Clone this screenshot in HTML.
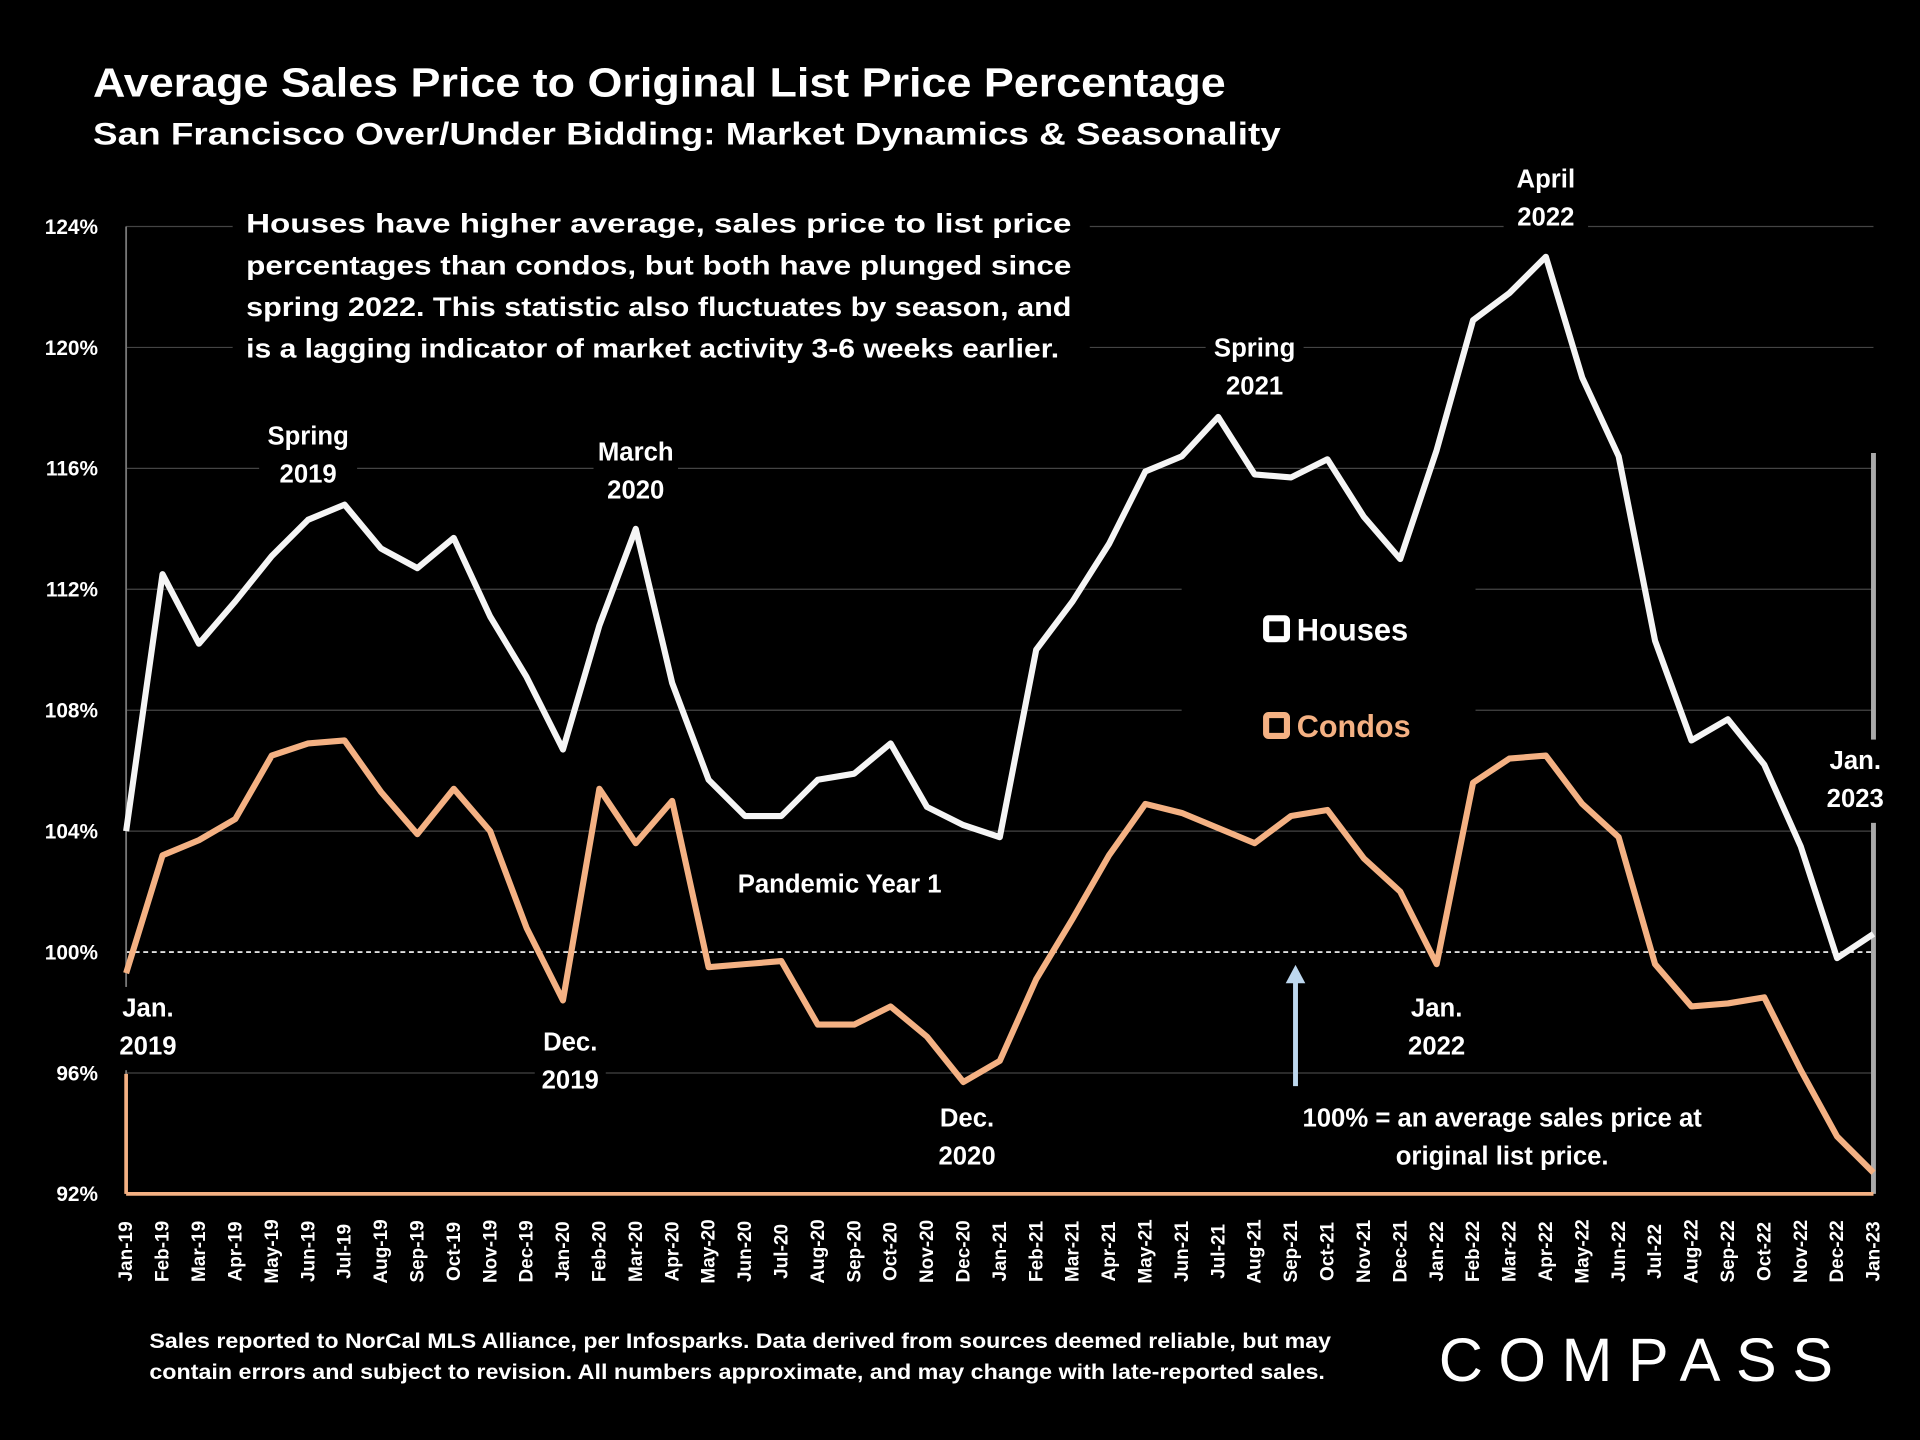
<!DOCTYPE html>
<html><head><meta charset="utf-8"><style>
html,body{margin:0;padding:0;background:#000;width:1920px;height:1440px;overflow:hidden}
svg{display:block}
text{font-family:"Liberation Sans",Carlito,sans-serif;font-weight:bold;fill:#fff}
</style></head><body>
<svg id="chart" width="1920" height="1440" viewBox="0 0 1568 1176" xmlns="http://www.w3.org/2000/svg">
<rect width="1568" height="1176" fill="#000"/>
<text x="76" y="79" font-size="33" textLength="925" lengthAdjust="spacingAndGlyphs">Average Sales Price to Original List Price Percentage</text>
<text x="76" y="118" font-size="26" textLength="970" lengthAdjust="spacingAndGlyphs">San Francisco Over/Under Bidding: Market Dynamics &amp; Seasonality</text>
<g id="grid"></g>
<g id="axes"></g>
<g id="series"></g>
<g id="notes">
<rect x="190" y="162" width="700" height="140" fill="#000"/>
<text font-size="22">
<tspan x="201" y="190" textLength="674" lengthAdjust="spacingAndGlyphs">Houses have higher average, sales price to list price</tspan>
<tspan x="201" y="224" textLength="674" lengthAdjust="spacingAndGlyphs">percentages than condos, but both have plunged since</tspan>
<tspan x="201" y="258" textLength="674" lengthAdjust="spacingAndGlyphs">spring 2022. This statistic also fluctuates by season, and</tspan>
<tspan x="201" y="292" textLength="664" lengthAdjust="spacingAndGlyphs">is a lagging indicator of market activity 3-6 weeks earlier.</tspan></text>
</g>
<g id="labels" font-size="21" text-anchor="middle"></g>
<g>
<rect x="965" y="470" width="240" height="160" fill="#000"/>
<rect x="1034" y="505" width="17" height="17" fill="none" stroke="#fff" stroke-width="5" rx="2"/>
<text x="1059" y="523" font-size="26" textLength="91" lengthAdjust="spacingAndGlyphs">Houses</text>
<rect x="1034" y="584" width="17" height="17" fill="none" stroke="#f4b183" stroke-width="5" rx="2"/>
<text x="1059" y="602" font-size="26" style="fill:#f4b183" textLength="93" lengthAdjust="spacingAndGlyphs">Condos</text>
</g>
<text font-size="17"><tspan x="122" y="1101" textLength="965" lengthAdjust="spacingAndGlyphs">Sales reported to NorCal MLS Alliance, per Infosparks. Data derived from sources deemed reliable, but may</tspan><tspan x="122" y="1126" textLength="960" lengthAdjust="spacingAndGlyphs">contain errors and subject to revision. All numbers approximate, and may change with late-reported sales.</tspan></text>
<text x="1340" y="1128" font-size="50" style="font-weight:normal;letter-spacing:8px" text-anchor="middle" textLength="330">COMPASS</text>
</svg>
<script>
const months=['Jan','Feb','Mar','Apr','May','Jun','Jul','Aug','Sep','Oct','Nov','Dec'];
const categories=[];
for(let y=19;y<=23;y++)for(const m of months){if(y===23&&m!=='Jan')break;categories.push(m+'-'+y);}
const houses=[104.0,112.5,110.2,111.6,113.1,114.3,114.8,113.35,112.7,113.7,111.1,109.1,106.7,110.8,114.0,108.9,105.7,104.5,104.5,105.7,105.9,106.9,104.8,104.2,103.8,110.0,111.6,113.5,115.9,116.4,117.7,115.8,115.7,116.3,114.4,113.0,116.6,120.9,121.8,123.0,119.0,116.4,110.3,107.0,107.7,106.2,103.5,99.8,100.6];
const condos=[99.3,103.2,103.7,104.4,106.5,106.9,107.0,105.3,103.9,105.4,104.0,100.8,98.4,105.4,103.6,105.0,99.5,99.6,99.7,97.6,97.6,98.2,97.2,95.7,96.4,99.1,101.1,103.2,104.9,104.6,104.1,103.6,104.5,104.7,103.1,102.0,99.6,105.6,106.4,106.5,104.9,103.8,99.6,98.2,98.3,98.5,96.1,93.9,92.7];
const yTicks=[92,96,100,104,108,112,116,120,124];
const annotations=[
 {t:['Spring','2019'],x:5,y:363},{t:['March','2020'],x:14,y:376},{t:['Spring','2021'],x:31,y:291},
 {t:['April','2022'],x:39,y:153},{t:['Jan.','2019'],x:0.6,y:830},{t:['Dec.','2019'],x:12.2,y:858},
 {t:['Dec.','2020'],x:23.1,y:920},{t:['Jan.','2022'],x:36,y:830},{t:['Jan.','2023'],x:47.5,y:628},
 {t:['Pandemic Year 1'],x:19.6,y:729},{t:['100% = an average sales price at','original list price.'],x:37.8,y:920}];
const NS='http://www.w3.org/2000/svg';
const X0=103,X1=1530,Y0=975,Y1=185;
const xs=i=>X0+(X1-X0)*i/(categories.length-1);
const ys=v=>Y0-(v-92)*(Y0-Y1)/(124-92);
function mk(tag,attrs,parent){const e=document.createElementNS(NS,tag);for(const k in attrs)e.setAttribute(k,attrs[k]);parent.appendChild(e);return e;}
const grid=document.getElementById('grid'),axes=document.getElementById('axes');
yTicks.forEach(v=>{
 if(v>92){const l=mk('line',{x1:X0,x2:X1,y1:ys(v),y2:ys(v),stroke:v===100?'#fff':'#444','stroke-width':v===100?1.3:1,'stroke-dasharray':v===100?'4 3':'none'},grid);
 
 }
 const t=mk('text',{x:80,y:ys(v)+6,'font-size':17,'text-anchor':'end'},axes);t.textContent=v+'%';
 
 
});
const la=mk('line',{x1:X0,x2:X0,y1:Y1,y2:Y0,stroke:'#777','stroke-width':1.5},axes);


const lo=mk('line',{x1:X0,x2:X0,y1:877,y2:Y0,stroke:'#f4b183','stroke-width':3},axes);


const ra=mk('line',{x1:X1,x2:X1,y1:370,y2:Y0,stroke:'#aaa','stroke-width':4},axes);


categories.forEach((c,i)=>{
 const t=mk('text',{transform:`translate(${xs(i)+5},1022) rotate(-90)`,'font-size':15.5,'text-anchor':'middle'},axes);t.textContent=c;
 
 
});
const ser=document.getElementById('series');
function line(d,col,name){const p=mk('polyline',{points:d.map((v,i)=>xs(i)+','+ys(v)).join(' '),fill:'none',stroke:col,'stroke-width':5,'stroke-linejoin':'round'},ser);
 
 }
line(condos,'#f4b183','condos-line');
line(houses,'#f5f5f5','houses-line');
const ax=mk('line',{x1:X0,x2:X1,y1:Y0,y2:Y0,stroke:'#f4b183','stroke-width':3},axes);


const lab=document.getElementById('labels');
annotations.forEach(a=>{
 const w=Math.max(...a.t.map(s=>s.length))*11+14,h=a.t.length*31+6;
 const cx=xs(a.x);
 mk('rect',{x:cx-w/2,y:a.y-24,width:w,height:h,fill:'#000'},lab);
 const t=mk('text',{x:cx,y:a.y},lab);
 
 
 a.t.forEach((s,k)=>{const sp=mk('tspan',{x:cx,dy:k?31:0},t);sp.textContent=s;});
});
const ar=mk('g',{},lab);


mk('line',{x1:1058,x2:1058,y1:800,y2:887,stroke:'#bdd7ee','stroke-width':4},ar);
mk('polygon',{points:'1050,803 1066,803 1058,788',fill:'#bdd7ee'},ar);
</script>
</body></html>
